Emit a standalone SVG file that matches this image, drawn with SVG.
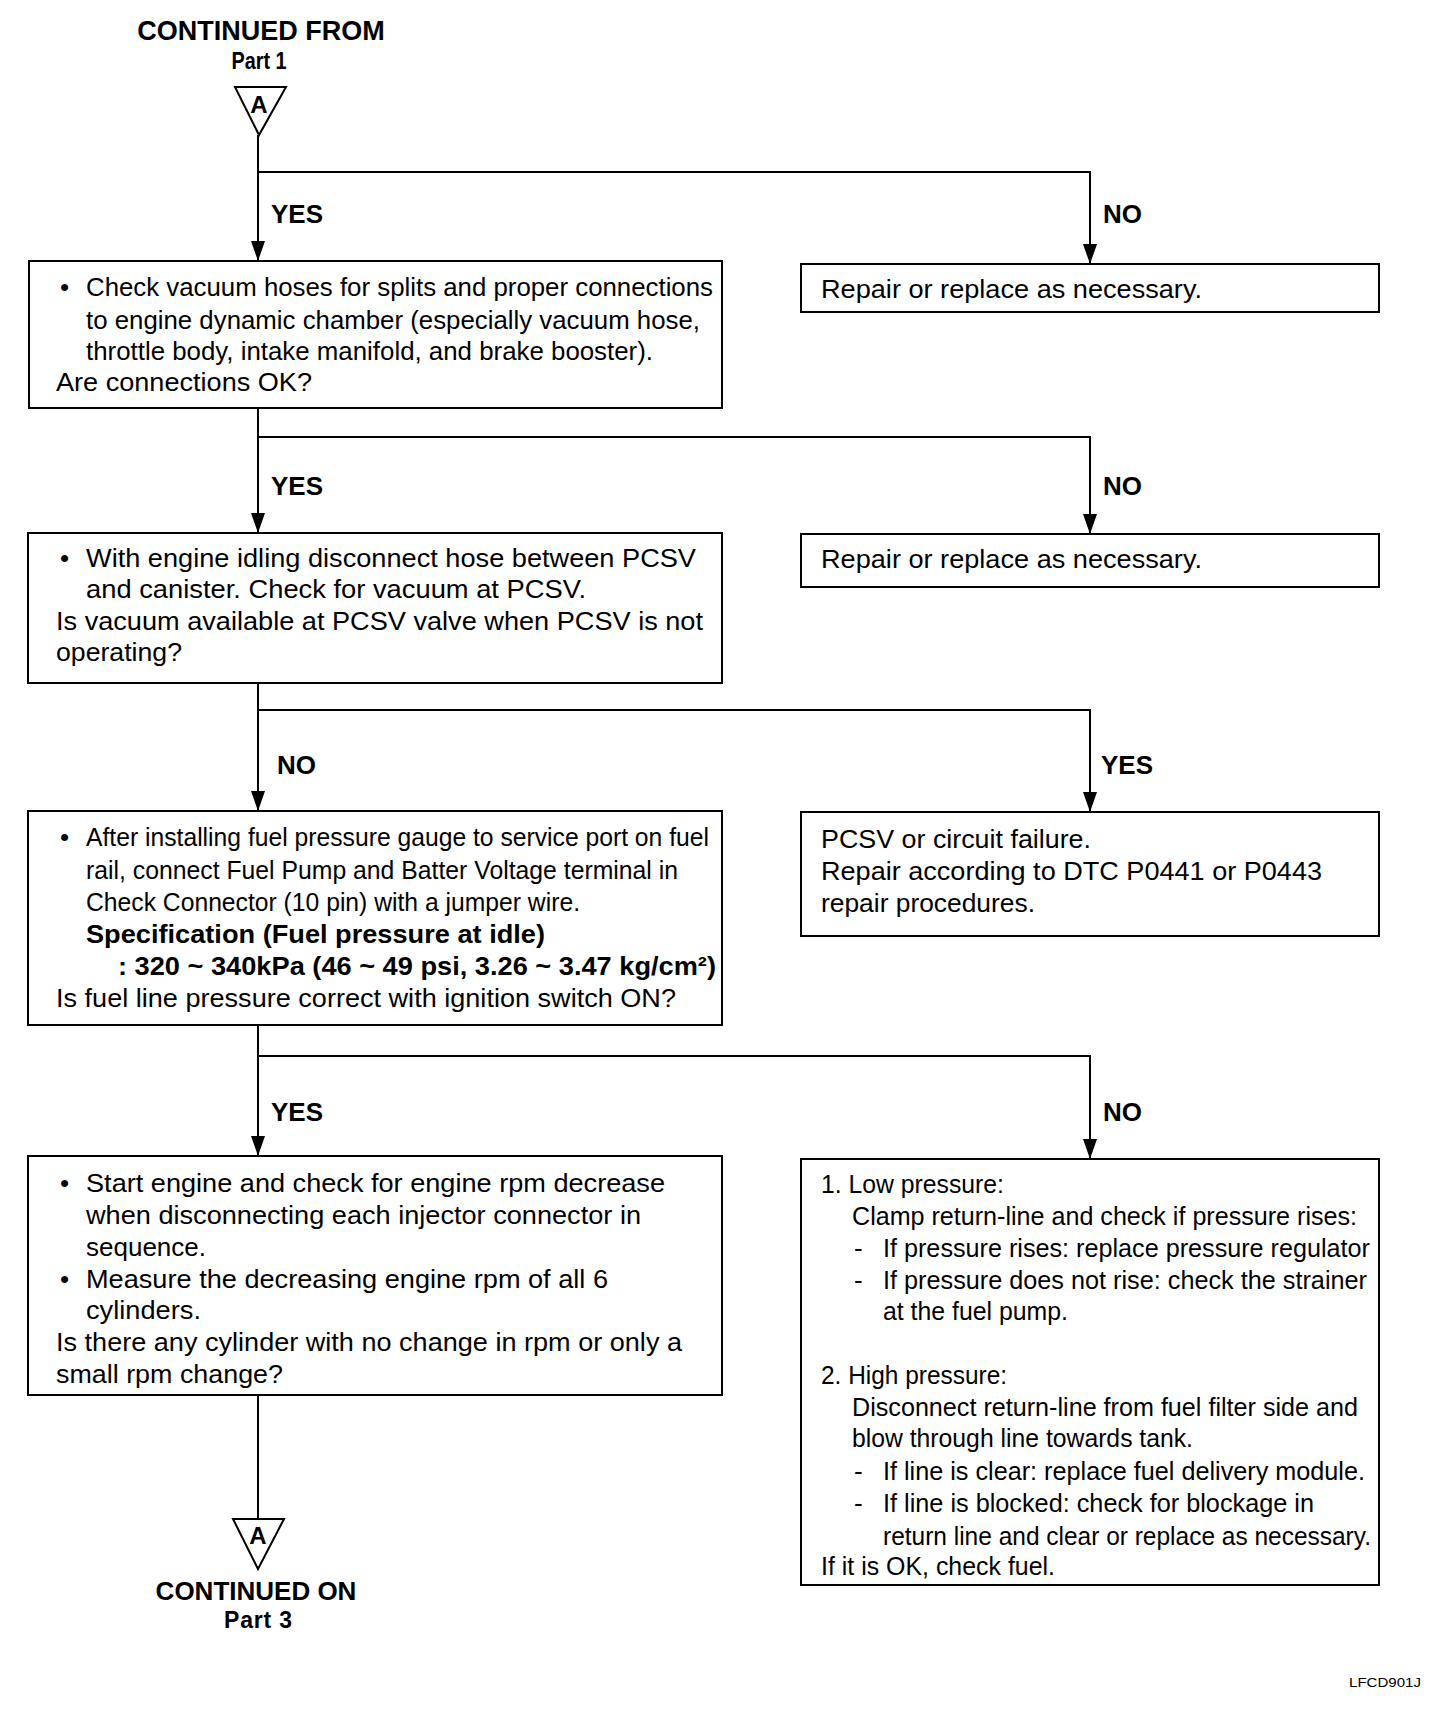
<svg xmlns="http://www.w3.org/2000/svg" width="1456" height="1716" viewBox="0 0 1456 1716">
<defs>
<style>
.box{fill:#fff;stroke:#000;stroke-width:2}
.ln{fill:none;stroke:#000;stroke-width:2}
.t{font-family:"Liberation Sans",Arial,Helvetica,sans-serif;font-size:26px;fill:#000}
.b{font-weight:bold}
.lbl{font-family:"Liberation Sans",Arial,Helvetica,sans-serif;font-size:26px;font-weight:bold;fill:#000}
.tri{fill:#fff;stroke:#000;stroke-width:2}
.s27{font-size:27px}
.s23{font-size:23px}
.s24{font-size:24px}
.s13{font-size:13px}
</style>
<marker id="arr" viewBox="0 -7 20 14" refX="20" refY="0" markerWidth="20" markerHeight="14" markerUnits="userSpaceOnUse" orient="auto">
<path d="M0,-7 L20,0 L0,7 z" fill="#000"/>
</marker>
</defs>
<rect width="1456" height="1716" fill="#fff"/>

<g id="start">
<text class="t b s27" x="261" y="40" text-anchor="middle">CONTINUED FROM</text>
<text class="t b s23" x="259" y="69" text-anchor="middle" textLength="55" lengthAdjust="spacingAndGlyphs">Part 1</text>
<polygon class="tri" points="235,87 286,87 259,135"/>
<text class="t b s24" x="259" y="113" text-anchor="middle">A</text>
</g>

<g id="connectors">
<line class="ln" x1="258" y1="135" x2="258" y2="261" marker-end="url(#arr)"/>
<polyline class="ln" points="258,172 1090,172 1090,264" marker-end="url(#arr)"/>
<line class="ln" x1="258" y1="408" x2="258" y2="533" marker-end="url(#arr)"/>
<polyline class="ln" points="258,437 1090,437 1090,534" marker-end="url(#arr)"/>
<line class="ln" x1="258" y1="683" x2="258" y2="811" marker-end="url(#arr)"/>
<polyline class="ln" points="258,710 1090,710 1090,812" marker-end="url(#arr)"/>
<line class="ln" x1="258" y1="1025" x2="258" y2="1156" marker-end="url(#arr)"/>
<polyline class="ln" points="258,1056 1090,1056 1090,1159" marker-end="url(#arr)"/>
<line class="ln" x1="258" y1="1395" x2="258" y2="1519"/>
<text class="lbl" x="271" y="223">YES</text>
<text class="lbl" x="1103" y="223">NO</text>
<text class="lbl" x="271" y="495">YES</text>
<text class="lbl" x="1103" y="495">NO</text>
<text class="lbl" x="277" y="774">NO</text>
<text class="lbl" x="1101" y="774">YES</text>
<text class="lbl" x="271" y="1121">YES</text>
<text class="lbl" x="1103" y="1121">NO</text>
</g>

<g id="box1">
<rect class="box" x="29" y="261" width="693" height="147"/>
<text class="t" x="60" y="296">•</text>
<text class="t" x="86" y="296" textLength="627" lengthAdjust="spacingAndGlyphs">Check vacuum hoses for splits and proper connections</text>
<text class="t" x="86" y="329" textLength="614" lengthAdjust="spacingAndGlyphs">to engine dynamic chamber (especially vacuum hose,</text>
<text class="t" x="86" y="360" textLength="567" lengthAdjust="spacingAndGlyphs">throttle body, intake manifold, and brake booster).</text>
<text class="t" x="56" y="391" textLength="256" lengthAdjust="spacingAndGlyphs">Are connections OK?</text>
</g>

<g id="repair1">
<rect class="box" x="801" y="264" width="578" height="48"/>
<text class="t" x="821" y="298" textLength="381" lengthAdjust="spacingAndGlyphs">Repair or replace as necessary.</text>
</g>

<g id="box2">
<rect class="box" x="28" y="533" width="694" height="150"/>
<text class="t" x="60" y="567">•</text>
<text class="t" x="86" y="567" textLength="610" lengthAdjust="spacingAndGlyphs">With engine idling disconnect hose between PCSV</text>
<text class="t" x="86" y="598" textLength="500" lengthAdjust="spacingAndGlyphs">and canister. Check for vacuum at PCSV.</text>
<text class="t" x="56" y="630" textLength="647" lengthAdjust="spacingAndGlyphs">Is vacuum available at PCSV valve when PCSV is not</text>
<text class="t" x="56" y="661" textLength="126" lengthAdjust="spacingAndGlyphs">operating?</text>
</g>

<g id="repair2">
<rect class="box" x="801" y="534" width="578" height="53"/>
<text class="t" x="821" y="568" textLength="381" lengthAdjust="spacingAndGlyphs">Repair or replace as necessary.</text>
</g>

<g id="box3">
<rect class="box" x="28" y="811" width="694" height="214"/>
<text class="t" x="60" y="846">•</text>
<text class="t" x="86" y="846" textLength="623" lengthAdjust="spacingAndGlyphs">After installing fuel pressure gauge to service port on fuel</text>
<text class="t" x="86" y="879" textLength="592" lengthAdjust="spacingAndGlyphs">rail, connect Fuel Pump and Batter Voltage terminal in</text>
<text class="t" x="86" y="911" textLength="494" lengthAdjust="spacingAndGlyphs">Check Connector (10 pin) with a jumper wire.</text>
<text class="t b" x="86" y="943" textLength="459" lengthAdjust="spacingAndGlyphs">Specification (Fuel pressure at idle)</text>
<text class="t b" x="118" y="975" textLength="598" lengthAdjust="spacingAndGlyphs">: 320 ~ 340kPa (46 ~ 49 psi, 3.26 ~ 3.47 kg/cm²)</text>
<text class="t" x="56" y="1007" textLength="620" lengthAdjust="spacingAndGlyphs">Is fuel line pressure correct with ignition switch ON?</text>
</g>

<g id="pcsv">
<rect class="box" x="801" y="812" width="578" height="124"/>
<text class="t" x="821" y="848" textLength="270" lengthAdjust="spacingAndGlyphs">PCSV or circuit failure.</text>
<text class="t" x="821" y="880" textLength="501" lengthAdjust="spacingAndGlyphs">Repair according to DTC P0441 or P0443</text>
<text class="t" x="821" y="912" textLength="214" lengthAdjust="spacingAndGlyphs">repair procedures.</text>
</g>

<g id="box4">
<rect class="box" x="28" y="1156" width="694" height="239"/>
<text class="t" x="60" y="1192">•</text>
<text class="t" x="86" y="1192" textLength="579" lengthAdjust="spacingAndGlyphs">Start engine and check for engine rpm decrease</text>
<text class="t" x="86" y="1224" textLength="555" lengthAdjust="spacingAndGlyphs">when disconnecting each injector connector in</text>
<text class="t" x="86" y="1256" textLength="120" lengthAdjust="spacingAndGlyphs">sequence.</text>
<text class="t" x="60" y="1288">•</text>
<text class="t" x="86" y="1288" textLength="522" lengthAdjust="spacingAndGlyphs">Measure the decreasing engine rpm of all 6</text>
<text class="t" x="86" y="1319" textLength="115" lengthAdjust="spacingAndGlyphs">cylinders.</text>
<text class="t" x="56" y="1351" textLength="626" lengthAdjust="spacingAndGlyphs">Is there any cylinder with no change in rpm or only a</text>
<text class="t" x="56" y="1383" textLength="227" lengthAdjust="spacingAndGlyphs">small rpm change?</text>
</g>

<g id="pressure">
<rect class="box" x="801" y="1159" width="578" height="426"/>
<text class="t" x="821" y="1193" textLength="183" lengthAdjust="spacingAndGlyphs">1. Low pressure:</text>
<text class="t" x="852" y="1225" textLength="505" lengthAdjust="spacingAndGlyphs">Clamp return-line and check if pressure rises:</text>
<text class="t" x="854" y="1257">-</text>
<text class="t" x="883" y="1257" textLength="487" lengthAdjust="spacingAndGlyphs">If pressure rises: replace pressure regulator</text>
<text class="t" x="854" y="1289">-</text>
<text class="t" x="883" y="1289" textLength="484" lengthAdjust="spacingAndGlyphs">If pressure does not rise: check the strainer</text>
<text class="t" x="883" y="1320" textLength="185" lengthAdjust="spacingAndGlyphs">at the fuel pump.</text>
<text class="t" x="821" y="1384" textLength="186" lengthAdjust="spacingAndGlyphs">2. High pressure:</text>
<text class="t" x="852" y="1416" textLength="506" lengthAdjust="spacingAndGlyphs">Disconnect return-line from fuel filter side and</text>
<text class="t" x="852" y="1447" textLength="341" lengthAdjust="spacingAndGlyphs">blow through line towards tank.</text>
<text class="t" x="854" y="1480">-</text>
<text class="t" x="883" y="1480" textLength="482" lengthAdjust="spacingAndGlyphs">If line is clear: replace fuel delivery module.</text>
<text class="t" x="854" y="1512">-</text>
<text class="t" x="883" y="1512" textLength="431" lengthAdjust="spacingAndGlyphs">If line is blocked: check for blockage in</text>
<text class="t" x="883" y="1545" textLength="488" lengthAdjust="spacingAndGlyphs">return line and clear or replace as necessary.</text>
<text class="t" x="821" y="1575" textLength="234" lengthAdjust="spacingAndGlyphs">If it is OK, check fuel.</text>
</g>

<g id="end">
<polygon class="tri" points="233,1519 284,1519 258,1569"/>
<text class="t b s24" x="258" y="1544" text-anchor="middle">A</text>
<text class="t b" x="256" y="1600" text-anchor="middle">CONTINUED ON</text>
<text class="t b s23" x="258" y="1628" text-anchor="middle" textLength="68" lengthAdjust="spacing">Part 3</text>
</g>

<text class="t s13" x="1385" y="1687" text-anchor="middle" textLength="72" lengthAdjust="spacingAndGlyphs">LFCD901J</text>
</svg>
